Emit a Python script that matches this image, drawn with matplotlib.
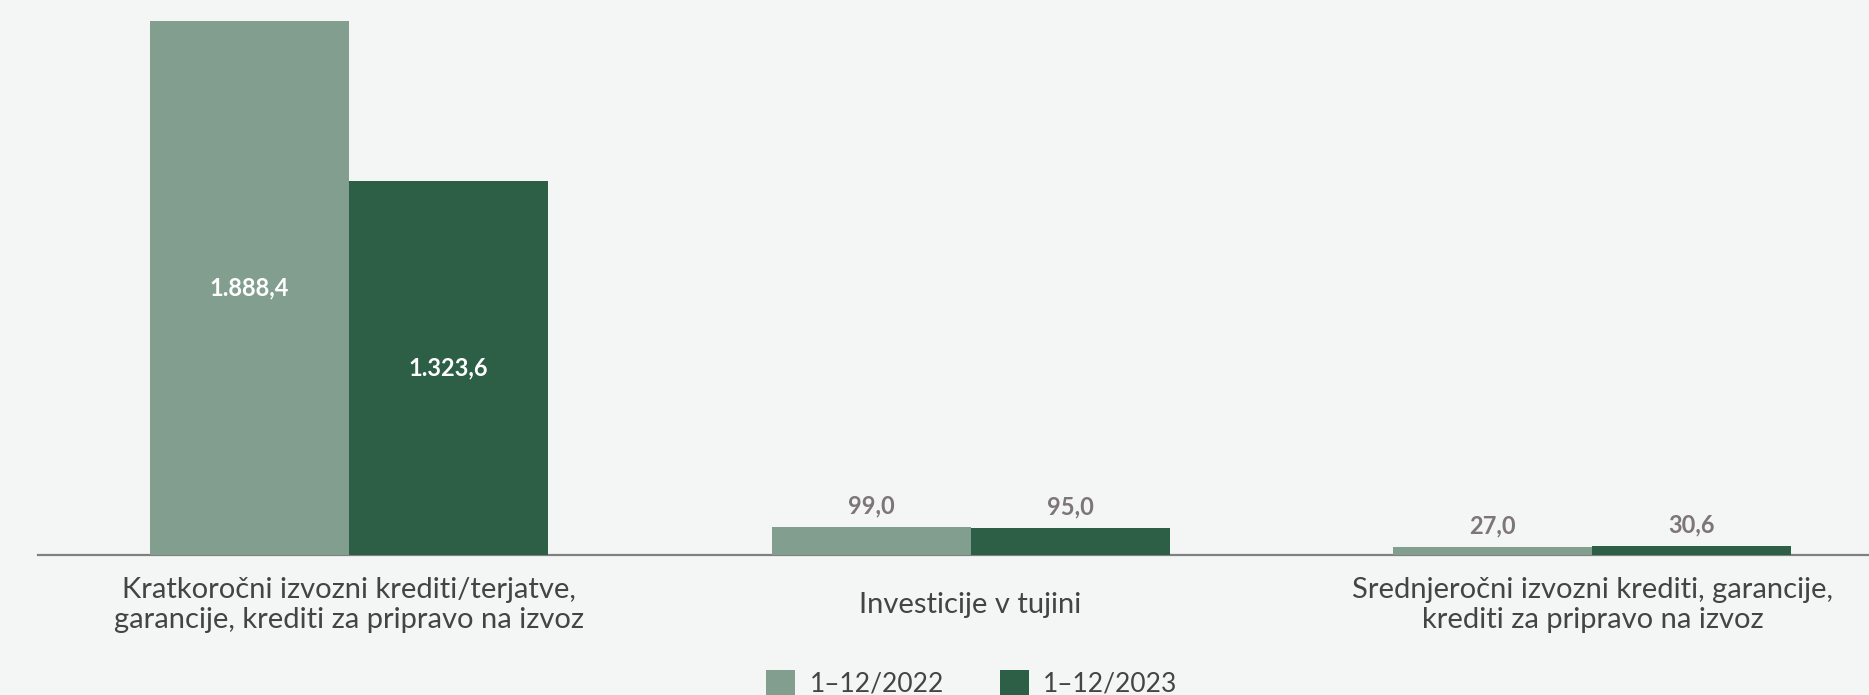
import numpy as np
import matplotlib.pyplot as plt
from matplotlib import transforms

plt.rcParams['font.family'] = ['Lato', 'DejaVu Sans']

# podatki (v mio EUR)
kategorije = [
    "Kratkoročni izvozni krediti/terjatve,\ngarancije, krediti za pripravo na izvoz",
    "Investicije v tujini",
    "Srednjeročni izvozni krediti, garancije,\nkrediti za pripravo na izvoz",
]
obdobja = ["1–12/2022", "1–12/2023"]
vrednosti_2022 = [1888.4, 99.0, 27.0]
vrednosti_2023 = [1323.6, 95.0, 30.6]

barve = ["#829e8f", "#2d5e46"]
ozadje = "#f4f6f5"

fig = plt.figure(figsize=(18.69, 6.95), dpi=100, facecolor=ozadje)
ax = fig.add_axes([38 / 1869, 140 / 695, 1 - 38 / 1869, 534 / 695])
ax.set_facecolor(ozadje)

x = np.arange(len(kategorije))
w = 0.32
b1 = ax.bar(x - w / 2, vrednosti_2022, w, color=barve[0], label=obdobja[0], zorder=3)
b2 = ax.bar(x + w / 2, vrednosti_2023, w, color=barve[1], label=obdobja[1], zorder=3)

ax.set_xlim(-0.5, 2.445)
ax.set_ylim(0, max(vrednosti_2022))

for s in ["top", "right", "left"]:
    ax.spines[s].set_visible(False)
ax.spines["bottom"].set_color("#808080")
ax.spines["bottom"].set_linewidth(1.6)
ax.spines["bottom"].set_zorder(2)
ax.set_xticks([])
ax.set_yticks([])

def fmt(v):
    s = f"{v:,.1f}"
    return s.replace(",", "X").replace(".", ",").replace("X", ".")

# oznake vrednosti
for bars in (b1, b2):
    for r in bars:
        v = r.get_height()
        cx = r.get_x() + r.get_width() / 2
        if v > 500:
            ax.text(cx, v / 2, fmt(v), ha="center", va="center", color="white",
                    fontsize=17, fontweight="bold", zorder=4)
        else:
            ax.annotate(fmt(v), (cx, v), xytext=(0, 7), textcoords="offset points",
                        ha="center", va="bottom", color="#7d7578",
                        fontsize=17, fontweight="bold")

# imena kategorij pod osjo
trans = transforms.blended_transform_factory(ax.transData, ax.transAxes)
for xi, lab in zip(x, kategorije):
    ax.text(xi, -0.094, lab, transform=trans, ha="center", va="center",
            fontsize=21, color="#444444", linespacing=1.2)

fig.legend(loc="center", bbox_to_anchor=(972 / 1869, 11.5 / 695), ncol=2,
           frameon=False, handlelength=1.1, handleheight=1.1,
           handletextpad=0.55, columnspacing=2.1, borderpad=0,
           labelcolor="#444444", prop={"size": 19})

fig.savefig("out.png", dpi=100, facecolor=ozadje)
